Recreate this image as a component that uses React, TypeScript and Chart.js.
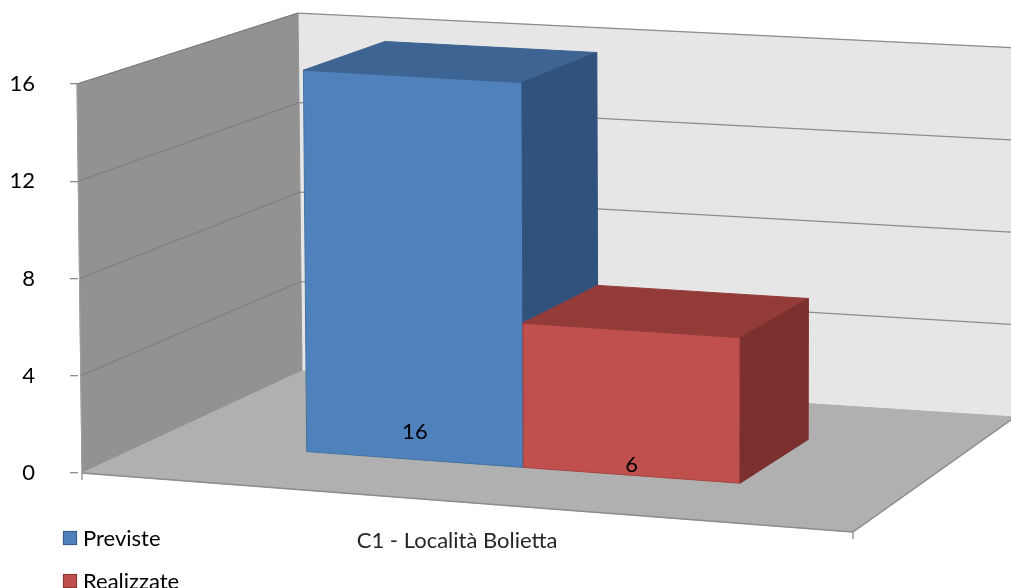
import { useEffect, useRef } from "react";
import { Chart, registerables } from "chart.js";

Chart.register(...registerables);

// Chart data
const categories = ["C1 - Località Bolietta"];
const seriesLabels = ["Previste", "Realizzate"];
const previste = [16];
const realizzate = [6];
const yTicks = [0, 4, 8, 12, 16];

const FONT = "Lato, 'Noto Sans', sans-serif";

const faceColors = [
  { front: "#4F81BD", top: "#3D6492", side: "#31527C", edge: "#45739F" },
  { front: "#C0504D", top: "#933B39", side: "#7C302E", edge: "#A64442" },
];

// horizontal pixel span used to normalise category positions across the floor
const FLOOR_SPAN = 933;

type Pt = [number, number];
interface Quad {
  fl: Pt;
  fr: Pt;
  bl: Pt;
  br: Pt;
}

function bilerp(q: Quad, u: number, d: number): Pt {
  const a = (1 - u) * (1 - d);
  const b = u * (1 - d);
  const c = (1 - u) * d;
  const e = u * d;
  return [
    a * q.fl[0] + b * q.fr[0] + c * q.bl[0] + e * q.br[0],
    a * q.fl[1] + b * q.fr[1] + c * q.bl[1] + e * q.br[1],
  ];
}

// Oblique perspective box: floor corners and vertical rise vectors,
// anchored to the y scale's pixel range at the front-left edge.
function makeView(chart: any) {
  const area = chart.chartArea;
  const ys = chart.scales.y;
  const base = ys.getPixelForValue(ys.min);
  const H = base - ys.getPixelForValue(ys.max);
  const o: Pt = [area.left + 4, base];
  const floor: Quad = {
    fl: o,
    fr: [o[0] + 771, o[1] + 59],
    bl: [o[0] + 220, o[1] - 102],
    br: [o[0] + 933, o[1] - 56],
  };
  const rise: Quad = {
    fl: [-5, -H],
    fr: [2, -H * 1.031],
    bl: [-4, -H * 0.92],
    br: [2, -H * 0.949],
  };
  const frac = (px: number) => (base - px) / H;
  const toU = (px: number) => (px - area.left) / FLOOR_SPAN;
  const P = (u: number, d: number, f: number): Pt => {
    const b = bilerp(floor, u, d);
    const r = bilerp(rise, u, d);
    return [b[0] + f * r[0], b[1] + f * r[1]];
  };
  return { ys, frac, toU, P };
}

function poly(ctx: CanvasRenderingContext2D, pts: Pt[], fill: string, stroke?: string) {
  ctx.beginPath();
  pts.forEach((p, i) => (i ? ctx.lineTo(p[0], p[1]) : ctx.moveTo(p[0], p[1])));
  ctx.closePath();
  ctx.fillStyle = fill;
  ctx.fill();
  ctx.lineWidth = 1;
  ctx.strokeStyle = stroke || fill;
  ctx.stroke();
}

function polyline(ctx: CanvasRenderingContext2D, pts: Pt[], color: string, width = 1.2) {
  ctx.beginPath();
  pts.forEach((p, i) => (i ? ctx.lineTo(p[0], p[1]) : ctx.moveTo(p[0], p[1])));
  ctx.strokeStyle = color;
  ctx.lineWidth = width;
  ctx.stroke();
}

const BAR_FRONT = 0.32;
const BAR_BACK = 0.71;

const box3d = {
  id: "box3d",
  beforeDatasetsDraw(chart: any) {
    const ctx: CanvasRenderingContext2D = chart.ctx;
    const { ys, frac, toU, P } = makeView(chart);
    ctx.save();

    // walls and floor
    poly(ctx, [P(0, 1, 0), P(1, 1, 0), P(1, 1, 1), P(0, 1, 1)], "#E6E6E6");
    poly(ctx, [P(0, 0, 0), P(0, 1, 0), P(0, 1, 1), P(0, 0, 1)], "#929292");
    poly(ctx, [P(0, 0, 0), P(1, 0, 0), P(1, 1, 0), P(0, 1, 0)], "#B0B0B0");

    // gridlines on the side and back walls
    ys.ticks.forEach((t: any) => {
      if (t.value === ys.min) return;
      const f = frac(ys.getPixelForValue(t.value));
      polyline(ctx, [P(0, 0, f), P(0, 1, f)], "#7E7E7E", 1.2);
      polyline(ctx, [P(0, 1, f), P(1, 1, f)], "#8C8C8C", 1.3);
    });

    // floor edges, front edge of the value axis, category tick marks
    polyline(ctx, [P(0, 0, 0), P(1, 0, 0), P(1, 1, 0)], "#8C8C8C", 1.3);
    polyline(ctx, [P(0, 0, 0), P(0, 0, 1)], "#A0A0A0", 1);
    const a = P(0, 0, 0);
    const b = P(1, 0, 0);
    polyline(ctx, [a, [a[0], a[1] + 7]], "#8C8C8C", 1.3);
    polyline(ctx, [b, [b[0], b[1] + 7]], "#8C8C8C", 1.3);

    // bars as boxes
    chart.getSortedVisibleDatasetMetas().forEach((meta: any) => {
      const col = faceColors[meta.index % faceColors.length];
      meta.data.forEach((el: any) => {
        const { x, y, width } = el.getProps(["x", "y", "width"], true);
        const u0 = toU(x - width / 2);
        const u1 = toU(x + width / 2);
        const f = frac(y);
        const d0 = BAR_FRONT;
        const d1 = BAR_BACK;
        poly(ctx, [P(u0, d0, 0), P(u1, d0, 0), P(u1, d0, f), P(u0, d0, f)], col.front, col.edge);
        poly(ctx, [P(u0, d0, f), P(u1, d0, f), P(u1, d1, f), P(u0, d1, f)], col.top);
        poly(ctx, [P(u1, d0, 0), P(u1, d1, 0), P(u1, d1, f), P(u1, d0, f)], col.side);
      });
    });

    ctx.restore();
    return false;
  },
  afterDraw(chart: any) {
    const ctx: CanvasRenderingContext2D = chart.ctx;
    const { frac, toU, P } = makeView(chart);
    ctx.save();
    ctx.font = `22px ${FONT}`;
    ctx.fillStyle = "#000";
    ctx.textAlign = "center";
    ctx.textBaseline = "middle";

    // value labels at the base of each bar
    chart.getSortedVisibleDatasetMetas().forEach((meta: any) => {
      const ds = chart.data.datasets[meta.index];
      meta.data.forEach((el: any, i: number) => {
        const { x, y } = el.getProps(["x", "y"], true);
        const p = P(toU(x), BAR_FRONT, frac(y) * 0.072);
        ctx.fillText(String(ds.data[i]), p[0], p[1]);
      });
    });

    // category label under the front edge
    const xs = chart.scales.x;
    xs.getLabels().forEach((lab: string, i: number) => {
      const p = P(toU(xs.getPixelForValue(i)), 0, 0);
      ctx.fillStyle = "#262626";
      ctx.fillText(lab, p[0] - 5, p[1] + 39);
    });

    // legend
    ctx.textAlign = "left";
    chart.data.datasets.forEach((ds: any, i: number) => {
      const top = 531 + i * 43;
      ctx.fillStyle = ds.backgroundColor;
      ctx.fillRect(63, top, 14, 14);
      ctx.strokeStyle = ds.borderColor;
      ctx.lineWidth = 1.2;
      ctx.strokeRect(63.5, top + 0.5, 13, 13);
      ctx.fillStyle = "#000";
      ctx.fillText(ds.label, 83, top + 7.5);
    });
    ctx.restore();
  },
};

export default function App() {
  const ref = useRef<HTMLCanvasElement | null>(null);

  useEffect(() => {
    if (!ref.current) return;
    const chart = new Chart(ref.current, {
      type: "bar",
      data: {
        labels: categories,
        datasets: [
          {
            label: seriesLabels[0],
            data: previste,
            backgroundColor: faceColors[0].front,
            borderColor: "#385D8A",
          },
          {
            label: seriesLabels[1],
            data: realizzate,
            backgroundColor: faceColors[1].front,
            borderColor: "#8C3836",
          },
        ],
      },
      options: {
        responsive: false,
        animation: false,
        events: [],
        layout: { padding: { top: 84, bottom: 115, left: 0, right: 13 } },
        datasets: { bar: { categoryPercentage: 0.584, barPercentage: 1 } },
        plugins: { legend: { display: false }, tooltip: { enabled: false } },
        scales: {
          x: { display: false, offset: true },
          y: {
            min: yTicks[0],
            max: yTicks[yTicks.length - 1],
            afterBuildTicks: (s: any) => {
              s.ticks = yTicks.map((value) => ({ value }));
            },
            afterFit: (s: any) => {
              s.width = 78;
            },
            grid: {
              drawOnChartArea: false,
              drawTicks: true,
              tickLength: 8,
              color: "#8C8C8C",
              lineWidth: 1.3,
            },
            border: { display: false },
            ticks: {
              padding: 35,
              color: "#000",
              font: { family: FONT, size: 22 },
            },
          },
        },
      },
      plugins: [box3d],
    });
    return () => chart.destroy();
  }, []);

  return (
    <div style={{ position: "fixed", left: 0, top: 0, width: 1011, height: 588, background: "#fff" }}>
      <canvas ref={ref} width={1011} height={588} style={{ display: "block" }} />
    </div>
  );
}
